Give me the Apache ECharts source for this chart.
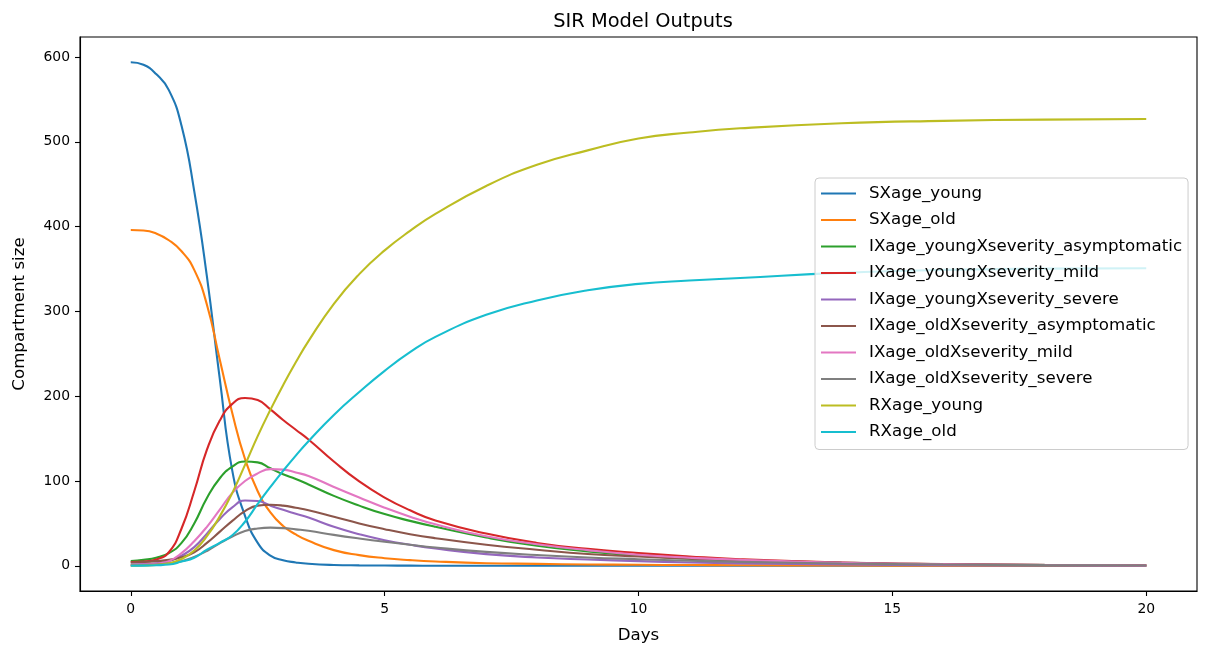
<!DOCTYPE html>
<html>
<head>
<meta charset="utf-8">
<script src="https://cdn.jsdelivr.net/npm/echarts@6/dist/echarts.min.js"></script>
<style>
html,body{margin:0;padding:0;background:#fff;}
#chart{width:1207px;height:657px;}
</style>
</head>
<body>
<div id="chart"></div>
<script>
const days = [0,0.25,0.5,0.75,1,1.25,1.5,1.75,2,2.25,2.5,2.75,3,3.25,3.5,4,4.5,5,5.5,6,7,8,9,10,11,12,14,16,18,20];

const SXage_young = [594,591,580,561,519,442,341,222,112,59,27,12,6.5,4,2.4,1,0.5,0.3,0.2,0.15,0.1,0.05,0.03,0.02,0.01,0.01,0,0,0,0];
const SXage_old = [396,395.5,392,384,371,349,308,244,180,126,88,63,47,37,29.5,18.5,12.6,9,6.7,5.1,3.1,2.3,1.6,1.2,0.9,0.7,0.4,0.2,0.1,0.05];
const IY_asym = [5.5,7,9.5,15,27,50,80,103,117,123,122,115,108,102.5,96,82.5,71,61,53,46,33.4,23.6,17,12,8.5,6,3,1.4,0.7,0.3];
const IY_mild = [4.5,5,7.5,16,44,88,137,171,191,198,195.5,184.5,172,160.5,149,123,99.5,80.5,65.5,53.5,38,27,20,15,11,7.8,4,2,1,0.5];
const IY_severe = [1.5,2,3,5.5,12,22,38,55,69,77,76.5,71,66,61.5,57,46,37.3,30.2,24.8,20.4,13.8,9.8,7.4,5.5,4,2.9,1.5,0.7,0.35,0.2];
const IO_asym = [4,4.5,5.5,7,10,16,27,40,53,64.5,71,72,71,68.5,65.6,58,50,43.2,37.3,32.6,24.8,19,14,11,8.5,6.6,3.8,2.1,1.2,0.6];
const IO_mild = [1,1.5,2.5,5.5,15,29,46,66,86,100,109,114,113.5,110,106,93,80.5,68.5,58,49,34.8,25.5,18.5,13,9.5,7,3.6,1.8,0.9,0.4];
const IO_severe = [0.7,1,1.5,3,5.5,10.5,17.5,26.5,34.5,41,44,45,44.5,43,41.3,36.5,32.2,28.3,24.8,21.6,16.5,12.8,9.8,7.8,6,4.7,2.7,1.5,0.8,0.4];
const RXage_young = [0,0.3,1,3,8,18,35,58,86,119,153,184,213,240,265,309,344,372,395,415,448,473,490,504,511,516,522,524.8,526.3,527];
const RXage_old = [0,0.2,0.7,1.5,5,9.5,19,27,36,52,73,93,112,130,147,178,205,230,252,270,296,313,325,332.5,336.5,339.5,345.5,349,350.5,351];

const seriesNames = ['SXage_young','SXage_old','IXage_youngXseverity_asymptomatic','IXage_youngXseverity_mild','IXage_youngXseverity_severe','IXage_oldXseverity_asymptomatic','IXage_oldXseverity_mild','IXage_oldXseverity_severe','RXage_young','RXage_old'];
const seriesValues = [SXage_young,SXage_old,IY_asym,IY_mild,IY_severe,IO_asym,IO_mild,IO_severe,RXage_young,RXage_old];
const xTicks = [0,5,10,15,20];
const yTicks = [0,100,200,300,400,500,600];

const colors = ['#1f77b4','#ff7f0e','#2ca02c','#d62728','#9467bd','#8c564b','#e377c2','#7f7f7f','#bcbd22','#17becf'];
const FONT = 'DejaVu Sans';

const chart = echarts.init(document.getElementById('chart'));
chart.setOption({
  animation: false,
  backgroundColor: '#fff',
  color: colors,
  textStyle: {fontFamily: FONT},
  title: {
    text: 'SIR Model Outputs',
    left: 638, top: 7, textAlign: 'center',
    textStyle: {fontFamily: FONT, fontSize: 19.4, fontWeight: 'normal', color: '#000'}
  },
  grid: {left: 80, top: 37, width: 1117, height: 554, show: true, borderColor: '#000', borderWidth: 1.1, containLabel: false},
  xAxis: {
    type: 'value', min: -1, max: 21,
    name: 'Days', nameLocation: 'middle', nameGap: 36,
    nameTextStyle: {fontFamily: FONT, fontSize: 16.67, color: '#000'},
    axisLine: {show: true, onZero: false, lineStyle: {color: '#000', width: 1.1}},
    axisTick: {show: true, inside: false, length: 5, customValues: xTicks, lineStyle: {color: '#000', width: 1.1}},
    axisLabel: {show: true, margin: 11, customValues: xTicks, fontFamily: FONT, fontSize: 13.9, color: '#000'},
    splitLine: {show: false}
  },
  yAxis: {
    type: 'value', min: -29.7, max: 623.7,
    name: 'Compartment size', nameLocation: 'middle', nameGap: 52, nameRotate: 90,
    nameTextStyle: {fontFamily: FONT, fontSize: 16.67, color: '#000'},
    axisLine: {show: true, onZero: false, lineStyle: {color: '#000', width: 1.1}},
    axisTick: {show: true, inside: false, length: 5, customValues: yTicks, lineStyle: {color: '#000', width: 1.1}},
    axisLabel: {show: true, margin: 10, customValues: yTicks, fontFamily: FONT, fontSize: 13.9, color: '#000'},
    splitLine: {show: false}
  },
  legend: {
    orient: 'vertical', left: 815, top: 178,
    padding: [7, 6, 9, 6],
    icon: 'path://M0,6 L35,6 L35,8.1 L0,8.1 Z',
    itemWidth: 35, itemHeight: 14, itemGap: 9.5,
    backgroundColor: 'rgba(255,255,255,0.8)', borderColor: '#cccccc', borderWidth: 1, borderRadius: 4,
    textStyle: {fontFamily: FONT, fontSize: 16.67, lineHeight: 17, color: '#000', padding: [0,0,0,8]},
    data: seriesNames
  },
  series: seriesNames.map((n, i) => ({
    name: n, type: 'line', symbol: 'none', smooth: 0.5,
    lineStyle: {width: 2.1, color: colors[i]},
    itemStyle: {color: colors[i]},
    data: days.map((d, j) => [d, seriesValues[i][j]])
  }))
});
</script>
</body>
</html>
